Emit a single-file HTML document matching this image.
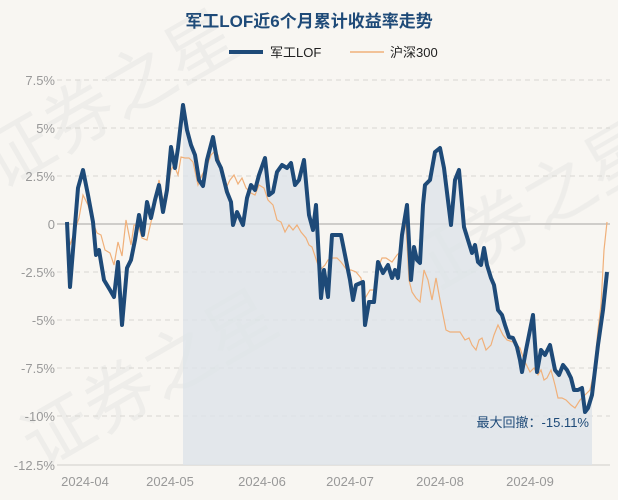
<!DOCTYPE html>
<html><head><meta charset="utf-8"><style>
body{margin:0;background:#f8f6f2;}
svg{display:block;font-family:"Liberation Sans","Noto Sans CJK SC",sans-serif;}
</style></head><body>
<svg width="618" height="500" viewBox="0 0 618 500">
<rect width="618" height="500" fill="#f8f6f2"/>
<g fill="#ecebe8" font-size="70" opacity="0.8" font-family="Noto Sans CJK SC,sans-serif">
<text x="0" y="190" transform="rotate(-30 0 190)">证券之星</text>
<text x="40" y="470" transform="rotate(-30 40 470)">证券之星</text>
<text x="420" y="300" transform="rotate(-30 420 300)">证券之星</text>
</g>
<text x="309" y="27" text-anchor="middle" font-size="17" font-weight="bold" fill="#1e4a78">军工LOF近6个月累计收益率走势</text>
<line x1="229" y1="52" x2="263" y2="52" stroke="#1e4a78" stroke-width="4"/>
<text x="270" y="57" font-size="13" fill="#222">军工LOF</text>
<line x1="350" y1="52" x2="384" y2="52" stroke="#f0b07a" stroke-width="1.5"/>
<text x="390" y="57" font-size="13" fill="#222">沪深300</text>
<g stroke="#d8d6d2" stroke-dasharray="5,4" stroke-width="1">
<line x1="57" y1="80" x2="610" y2="80"/><line x1="57" y1="128" x2="610" y2="128"/>
<line x1="57" y1="176" x2="610" y2="176"/><line x1="57" y1="272" x2="610" y2="272"/>
<line x1="57" y1="320" x2="610" y2="320"/><line x1="57" y1="368" x2="610" y2="368"/>
<line x1="57" y1="416" x2="610" y2="416"/>
</g>
<line x1="57" y1="224" x2="610" y2="224" stroke="#cfcdca" stroke-width="2"/>
<line x1="57" y1="465" x2="610" y2="465" stroke="#cfcdca" stroke-width="1"/>
<g font-size="13" fill="#999" text-anchor="end">
<text x="55" y="85">7.5%</text><text x="55" y="133">5%</text><text x="55" y="181">2.5%</text>
<text x="55" y="229">0</text><text x="55" y="277">-2.5%</text><text x="55" y="325">-5%</text>
<text x="55" y="373">-7.5%</text><text x="55" y="421">-10%</text><text x="55" y="470">-12.5%</text>
</g>
<g font-size="13" fill="#999" text-anchor="middle">
<text x="85" y="486">2024-04</text><text x="170" y="486">2024-05</text><text x="262" y="486">2024-06</text>
<text x="350" y="486">2024-07</text><text x="440" y="486">2024-08</text><text x="530" y="486">2024-09</text>
</g>
<polygon fill="#dde3e8" opacity="0.8" points="183,465 183,105 187,130 191,145 195,155 199,180 203,186 207,160 213,137 217,160 221,168 227,192 231,202 233,225 237,212 243,225 247,198 251,185 255,190 259,175 265,158 269,195 273,192 277,172 282,165 287,168 291,163 295,185 299,180 304,160 309,215 313,230 316,205 321,298 324,270 328,297 332,235 336,235 341,235 344,250 350,280 353,300 356,285 363,282 365,325 369,302 374,302 378,262 383,273 388,265 392,278 395,270 398,278 402,235 407,205 411,280 414,247 417,260 420,263 423,205 425,185 430,180 435,152 440,148 444,168 451,225 455,180 459,170 464,227 468,240 472,253 475,245 478,262 481,265 484,248 487,265 491,278 494,285 498,310 502,315 505,325 509,337 513,338 517,347 520,360 522,372 526,350 530,330 533,315 537,372 541,350 545,355 550,345 555,370 559,375 563,365 567,370 571,378 574,390 578,390 582,388 585,412 588,408 592,395 592,465"/>
<polyline fill="none" stroke="#f0b07a" stroke-width="1.2" points="67,224 70,245 75,230 79,218 83,195 88,205 92,220 97,233 101,235 105,250 110,253 114,265 118,242 122,256 126,220 131,245 134,225 138,225 142,238 147,240 151,222 155,205 159,180 163,200 167,195 171,170 174,165 178,175 181,157 185,158 189,158 193,162 198,185 202,175 207,166 211,155 214,152 218,155 222,172 225,190 230,180 234,175 238,184 242,178 246,188 251,193 255,195 259,185 264,188 268,200 273,205 277,220 281,222 285,232 289,225 293,230 297,225 301,232 306,238 309,245 312,247 317,262 320,270 325,265 328,260 333,258 337,258 341,262 347,270 351,270 356,272 361,278 364,300 370,290 374,290 378,268 382,258 386,258 392,262 397,255 400,252 403,230 406,225 409,280 412,292 416,298 420,302 424,270 428,280 432,300 436,278 440,300 446,330 450,332 455,332 460,332 465,340 469,338 472,345 476,350 479,340 482,338 486,350 491,345 494,335 498,325 503,335 507,340 513,342 520,348 524,360 530,372 534,368 538,375 541,370 544,380 547,378 551,370 555,385 558,398 562,398 566,400 571,405 575,408 580,400 585,395 590,390 594,372 598,330 601,305 604,250 607,222"/>
<polyline fill="none" stroke="#1e4a78" stroke-width="4" stroke-linejoin="round" points="67,222 70,287 73,250 78,188 83,170 88,195 93,222 96,255 99,250 104,280 110,290 114,297 118,262 122,325 127,268 131,260 135,240 139,215 143,235 147,202 151,218 155,200 159,185 163,212 167,190 171,147 175,168 178,148 183,105 187,130 191,145 195,155 199,180 203,186 207,160 213,137 217,160 221,168 227,192 231,202 233,225 237,212 243,225 247,198 251,185 255,190 259,175 265,158 269,195 273,192 277,172 282,165 287,168 291,163 295,185 299,180 304,160 309,215 313,230 316,205 321,298 324,270 328,297 332,235 336,235 341,235 344,250 350,280 353,300 356,285 363,282 365,325 369,302 374,302 378,262 383,273 388,265 392,278 395,270 398,278 402,235 407,205 411,280 414,247 417,260 420,263 423,205 425,185 430,180 435,152 440,148 444,168 451,225 455,180 459,170 464,227 468,240 472,253 475,245 478,262 481,265 484,248 487,265 491,278 494,285 498,310 502,315 505,325 509,337 513,338 517,347 520,360 522,372 526,350 530,330 533,315 537,372 541,350 545,355 550,345 555,370 559,375 563,365 567,370 571,378 574,390 578,390 582,388 585,412 588,408 592,395 598,345 603,310 607,272"/>
<text x="589" y="427" text-anchor="end" font-size="13" fill="#1e4a78">最大回撤：-15.11%</text>
</svg>
</body></html>
